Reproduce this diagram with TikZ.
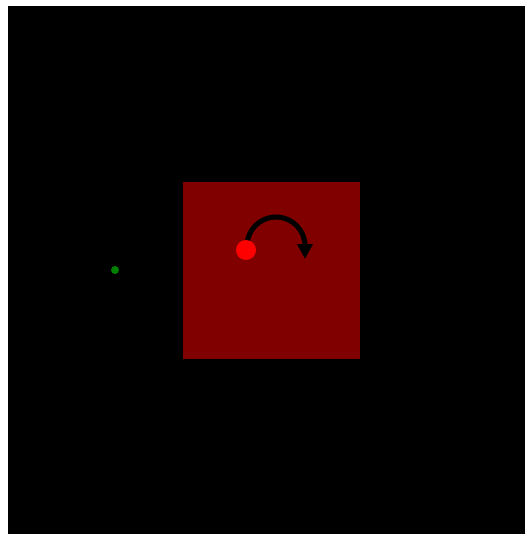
\documentclass[tikz,border=0pt]{standalone}
\usetikzlibrary{arrows.meta}
\definecolor{darkred}{HTML}{800000}
\definecolor{dotgreen}{HTML}{008000}
\begin{document}
\begin{tikzpicture}[x=1pt,y=-1pt,
  blob/.style={circle,inner sep=0pt,draw=none},
  turn/.style={line width=5pt,-{Triangle[width=15pt,length=15pt]}}]
\useasboundingbox (0,0) rectangle (525,534);
\fill[white] (0,0) rectangle (525,534);
\fill[black] (8,6) rectangle (525,534);
\node[fill=darkred,minimum size=177pt,inner sep=0pt,anchor=north west] (square) at (182.5,182) {};
\node[blob,fill=dotgreen,minimum size=8pt] (dot) at (115,270) {};
\coordinate (arcstart) at (247,246);
\draw[turn] (arcstart) arc (180:360:29) -- ++(0,13);
\node[blob,fill=red,minimum size=20pt] (ball) at (246,250) {};
\end{tikzpicture}
\end{document}
